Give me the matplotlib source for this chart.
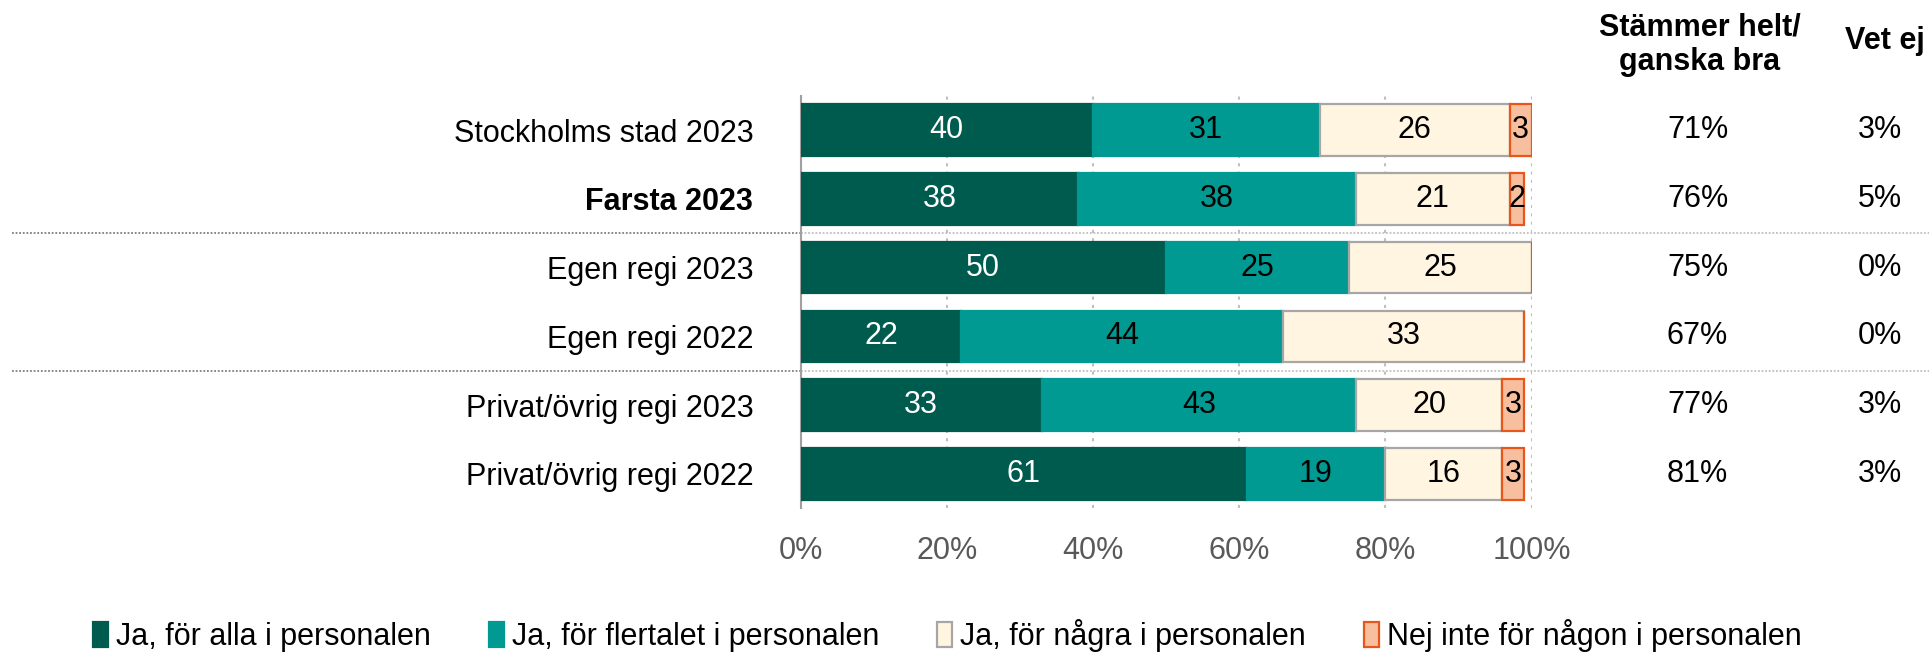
import matplotlib.pyplot as plt
import numpy as np
from matplotlib.transforms import blended_transform_factory

plt.rcParams["font.family"] = ["Liberation Sans", "DejaVu Sans"]

groups = [
    "Stockholms stad 2023",
    "Farsta 2023",
    "Egen regi 2023",
    "Egen regi 2022",
    "Privat/övrig regi 2023",
    "Privat/övrig regi 2022",
]
series_names = [
    "Ja, för alla i personalen",
    "Ja, för flertalet i personalen",
    "Ja, för några i personalen",
    "Nej inte för någon i personalen",
]
all_staff = [40, 38, 50, 22, 33, 61]
most_staff = [31, 38, 25, 44, 43, 19]
some_staff = [26, 21, 25, 33, 20, 16]
no_staff = [3, 2, 0, 0, 3, 3]
agree_share = ["71%", "76%", "75%", "67%", "77%", "81%"]
dont_know = ["3%", "5%", "0%", "0%", "3%", "3%"]

fills = ["#005b4f", "#009a92", "#fff5e1", "#f8bf9f"]
edges = ["#005b4f", "#009a92", "#a6a6a6", "#e8561c"]
text_colors = ["white", "black", "black", "black"]
FS = 22

fig = plt.figure(figsize=(19.29, 6.52), dpi=100)
ax = fig.add_axes([0.415, 0.2204, 0.379, 0.6326])

y = np.arange(len(groups))
left = np.zeros(len(groups))
for vals, name, fc, ec, tc in zip(
    [all_staff, most_staff, some_staff, no_staff], series_names, fills, edges, text_colors
):
    vals = np.array(vals, dtype=float)
    ax.barh(y, vals, left=left, height=0.75, color=fc, edgecolor=ec,
            linewidth=1.6, label=name, zorder=3)
    for yi, (l, v) in enumerate(zip(left, vals)):
        if v > 0:
            ax.text(l + v / 2, yi, f"{int(v)}", ha="center", va="center",
                    fontsize=FS, color=tc, zorder=4)
    left += vals

ax.set_xlim(0, 100)
ax.set_ylim(len(groups) - 0.5, -0.5)
ax.set_xticks([0, 20, 40, 60, 80, 100])
ax.set_xticklabels([f"{t}%" for t in range(0, 101, 20)], fontsize=FS, color="#595959")
ax.tick_params(axis="x", length=0, pad=20)
ax.set_yticks(y)
ax.set_yticklabels(groups, fontsize=FS)
ax.tick_params(axis="y", length=0, pad=34)
ax.get_yticklabels()[1].set_fontweight("bold")
for s in ["top", "right", "bottom"]:
    ax.spines[s].set_visible(False)
ax.spines["left"].set_color("#a0a0a0")
ax.spines["left"].set_linewidth(1.5)
ax.xaxis.grid(True, linestyle=(0, (1.5, 2.5)), color="#bfbfbf", linewidth=1.5, zorder=0)
ax.set_axisbelow(True)

# separators between the district rows and the management groups
trans = blended_transform_factory(fig.transFigure, ax.transData)
for ysep in [1.5, 3.5]:
    ax.plot([0.006, 0.415], [ysep, ysep], transform=trans, color="#7f7f7f",
            linestyle=(0, (1, 1)), linewidth=1.3, clip_on=False, zorder=1)
    ax.plot([0.415, 1.0], [ysep, ysep], transform=trans, color="#bfbfbf",
            linestyle=(0, (1, 1)), linewidth=1.3, clip_on=False, zorder=1)

# summary columns to the right of the bars
for yi, (a, d) in enumerate(zip(agree_share, dont_know)):
    ax.text(0.880, yi, a, transform=trans, ha="center", va="center", fontsize=FS)
    ax.text(0.986, yi, d, transform=trans, ha="right", va="center", fontsize=FS)

fig.text(0.881, 0.932, "Stämmer helt/\nganska bra", ha="center", va="center",
         fontsize=FS, fontweight="bold", linespacing=1.2)
fig.text(0.998, 0.937, "Vet ej", ha="right", va="center", fontsize=FS, fontweight="bold")

handles, labels = ax.get_legend_handles_labels()
fig.legend(handles, labels, loc="center", bbox_to_anchor=(0.491, 0.025), ncol=4,
           frameon=False, fontsize=FS, handlelength=0.5, handleheight=0.9,
           handletextpad=0.25, columnspacing=1.9)

fig.savefig("out.png", dpi=100)
